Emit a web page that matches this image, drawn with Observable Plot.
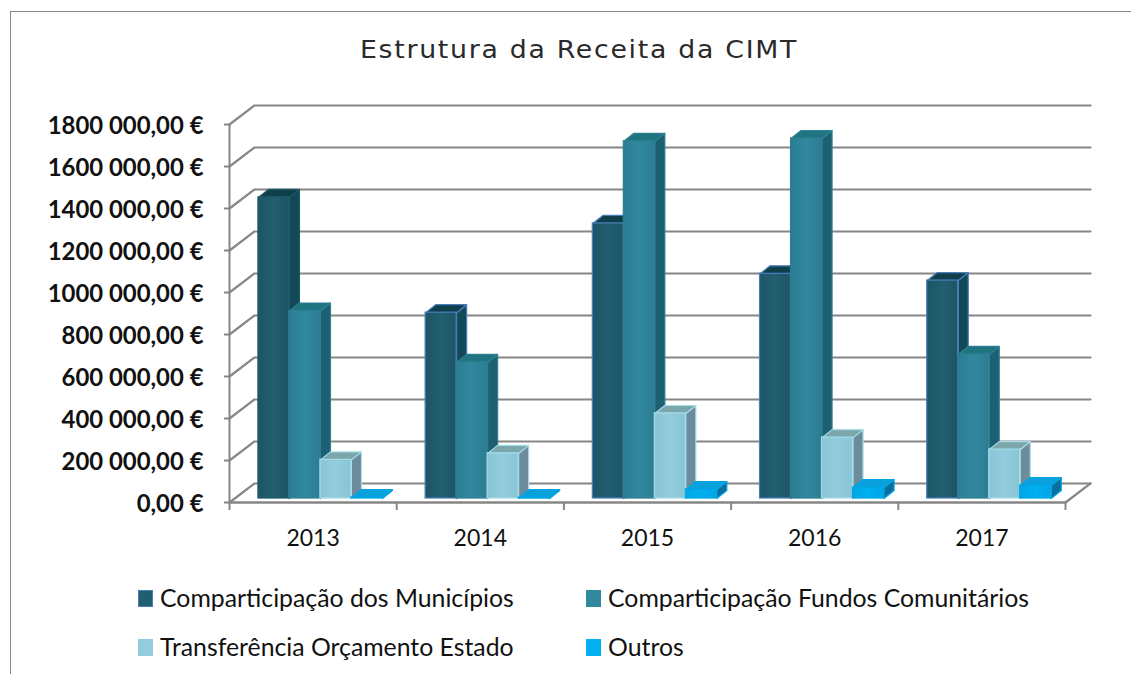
<!DOCTYPE html>
<html><head><meta charset="utf-8">
<script src="https://cdn.jsdelivr.net/npm/d3@7"></script>
<script src="https://cdn.jsdelivr.net/npm/@observablehq/plot@0.6"></script>
<style>
html,body{margin:0;padding:0;background:#fff;overflow:hidden}
#frame{position:relative;width:1131px;height:674px;overflow:hidden}
#border{position:absolute;left:10px;top:11px;width:1140px;height:700px;border:1.5px solid #868686;box-sizing:border-box}
#title{position:absolute;left:360px;top:35px;font:25px "DejaVu Sans",sans-serif;color:#2a2a2a;white-space:nowrap;letter-spacing:1.6px;transform-origin:0 0;transform:scaleX(1.07)}
#chart{position:absolute;left:0;top:100px}
.leg{position:absolute;font:24.8px "Lato",sans-serif;color:#111;white-space:nowrap;line-height:30px}
.sw{position:absolute;width:15px;height:17px}
</style></head><body>
<div id="frame"><div id="border"></div>
<div id="title">Estrutura da Receita da CIMT</div>
<div id="chart"></div>
<div id="legend"></div></div>
<script>
const years = ["2013","2014","2015","2016","2017"];
const seriesNames = ["Comparticipação dos Municípios","Comparticipação Fundos Comunitários","Transferência Orçamento Estado","Outros"];
const municipios = [1434000, 885000, 1310000, 1070000, 1038000];
const fundos = [893000, 648000, 1701000, 1714000, 686000];
const transferencia = [184000, 215000, 405000, 290000, 233000];
const outros = [5000, 4000, 43000, 52000, 62000];
const yTicks = [0,200000,400000,600000,800000,1000000,1200000,1400000,1600000,1800000];
const yLabels = ["0,00 €","200 000,00 €","400 000,00 €","600 000,00 €","800 000,00 €","1000 000,00 €","1200 000,00 €","1400 000,00 €","1600 000,00 €","1800 000,00 €"];
const frontColors = ["#215f70","#31899f","#93cddd","#00b0f0"];
const frontEdgeShade = ["#1d5565","#2b7c92","#88c4d5","#00a6e6"];
const sideColors = ["#124858","#1d6074","#6c8c9c","#0a6f9c"];
const topColors = ["#103f4c","#1f7480","#7aa6ac","#0aa0dc"];
const edgeColors = ["#4a7ebb","#2f7f94","#a6dce8","#00a6e4"];
const firstBarEdge = "#1f5a69";
const values = [municipios, fundos, transferencia, outros];

const wallDX = 0.15, wallDY = 90500;
const baseDY = 19000;
const barStart = 0.173, barW = 0.1854, barDX = 0.06, barDY = 38000;
const axisColor = "#868686";

const poly = (pts, id) => pts.map(([x,y]) => ({x,y,id}));
const gridData = [];
yTicks.forEach(v => {
  gridData.push(...poly([[0,v],[wallDX,v+wallDY],[5+wallDX,v+wallDY]], "g"+v));
});
gridData.push(...poly([[5,0],[5+wallDX,wallDY]], "edge"));

const marks = [
  Plot.line(gridData,{x:"x",y:"y",z:"id",stroke:axisColor,strokeWidth:2.2}),
  Plot.ruleX([0],{y1:0,y2:1800000,stroke:axisColor,strokeWidth:2}),
  Plot.ruleY([0],{x1:0,x2:5,stroke:axisColor,strokeWidth:2.5}),
  Plot.axisX({ticks:[0,1,2,3,4,5],tickSize:8,tickFormat:()=>"",stroke:axisColor,strokeWidth:2}),
  Plot.axisX({ticks:years.map((_,i)=>i+0.5),tickSize:0,tickPadding:27,tickFormat:d=>years[Math.floor(d)],fontSize:23,fontFamily:"Lato",fill:"#111",stroke:"none",label:null}),
  Plot.axisY({ticks:yTicks,tickSize:5,tickFormat:()=>"",stroke:axisColor,strokeWidth:2,label:null}),
  Plot.axisY({ticks:yTicks,tickSize:0,tickPadding:26,dy:1.5,tickFormat:d=>yLabels[yTicks.indexOf(d)],fontSize:23.9,fontWeight:700,fontFamily:"Lato",fill:"#111",stroke:"none",label:null})
];
values.forEach((vals,s) => {
  const rows = vals.map((v,i) => {
    const x1 = i + barStart + s*barW, x2 = x1 + barW, y1 = baseDY, y2 = baseDY + v;
    return {x1,x2,y1,y2,i};
  });
  const side = rows.flatMap((r,i) => poly([[r.x2,r.y1],[r.x2+barDX,r.y1+barDY],[r.x2+barDX,r.y2+barDY],[r.x2,r.y2],[r.x2,r.y1]],"s"+i));
  const top = rows.flatMap((r,i) => poly([[r.x1,r.y2],[r.x1+barDX,r.y2+barDY],[r.x2+barDX,r.y2+barDY],[r.x2,r.y2],[r.x1,r.y2]],"t"+i));
  // the first series has a blue outline except in its first year
  const strokeOf = d => (s===0 && ((d.id && d.id.endsWith("0")) || d.i===0)) ? firstBarEdge : edgeColors[s];
  marks.push(
    Plot.line(side,{x:"x",y:"y",z:"id",fill:sideColors[s],stroke:strokeOf,strokeWidth:1.2}),
    Plot.line(top,{x:"x",y:"y",z:"id",fill:topColors[s],stroke:strokeOf,strokeWidth:1.2}),
    Plot.rect(rows,{x1:"x1",x2:"x2",y1:"y1",y2:"y2",fill:`url(#front${s})`,stroke:strokeOf,strokeWidth:1.2})
  );
});

const chart = Plot.plot({
  width:1131,height:460,
  marginLeft:229,marginRight:66,marginTop:24,marginBottom:58,
  x:{domain:[0,5]},
  y:{domain:[0,1800000]},
  style:{background:"transparent",overflow:"visible"},
  marks
});
const defs = d3.select(chart).insert("defs",":first-child");
frontColors.forEach((c,s) => {
  const g = defs.append("linearGradient").attr("id","front"+s);
  g.append("stop").attr("offset","0%").attr("stop-color",frontEdgeShade[s]);
  g.append("stop").attr("offset","50%").attr("stop-color",c);
  g.append("stop").attr("offset","100%").attr("stop-color",frontEdgeShade[s]);
});
document.getElementById("chart").append(chart);

const legendPos = [[138,583],[586,583],[138,632],[586,632]];
const legend = document.getElementById("legend");
seriesNames.forEach((n,i) => {
  const [x,y] = legendPos[i];
  const sw = document.createElement("div"); sw.className="sw";
  sw.style.cssText = `left:${x}px;top:${y+7}px;background:${frontColors[i]};` + (i==0?"outline:1.5px solid #4a7ebb;outline-offset:-1.5px;":"");
  const t = document.createElement("div"); t.className="leg"; t.textContent=n;
  t.style.left=(x+22)+"px"; t.style.top=y+"px";
  legend.append(sw,t);
});
</script></body></html>
